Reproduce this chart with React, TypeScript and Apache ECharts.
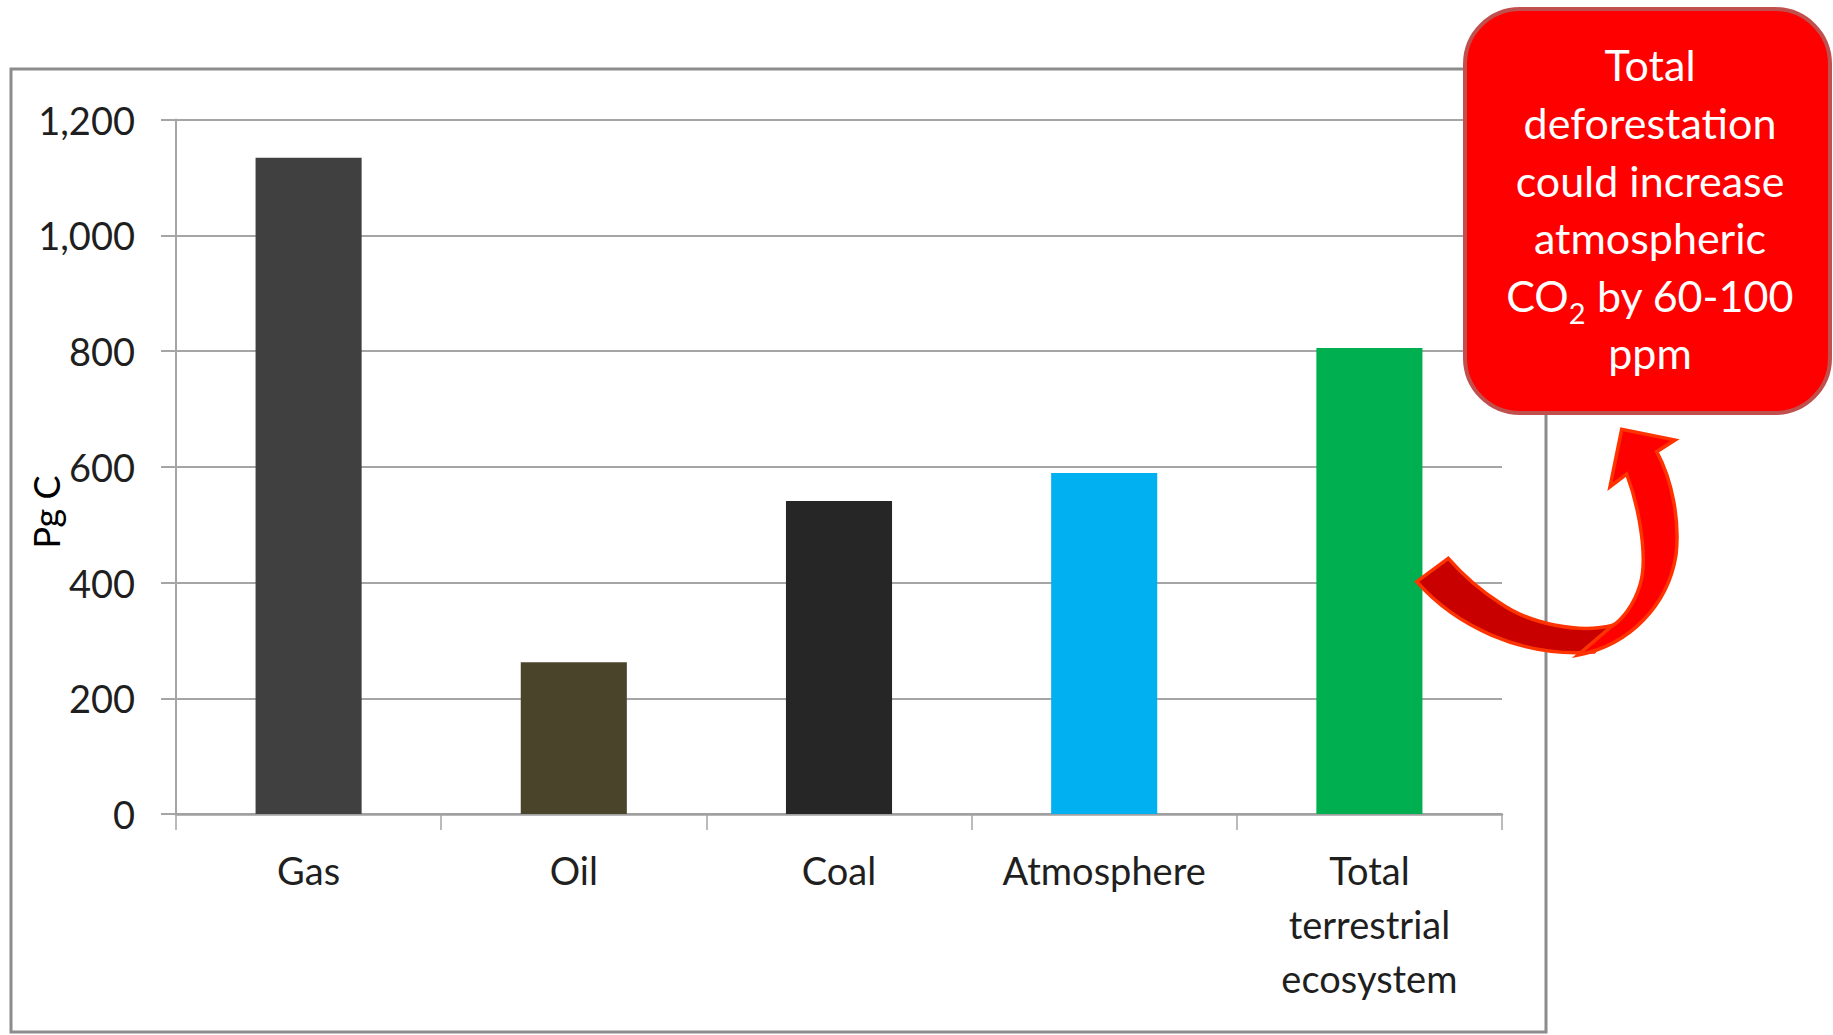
import React, { useEffect, useRef } from 'react';
import * as echarts from 'echarts';

// Carbon stocks, in petagrams of carbon
const categories = ['Gas', 'Oil', 'Coal', 'Atmosphere', 'Total terrestrial ecosystem'];
const carbonPgC = [1134, 262, 541, 589, 805];
const barColors = ['#404040', '#4a452a', '#262626', '#00b0f0', '#00b050'];

// Value axis range
const yMin = 0;
const yMax = 1200;
const yStep = 200;

// Callout text (the {sub|…} part is drawn as a subscript)
const calloutLines = [
  'Total',
  'deforestation',
  'could increase',
  'atmospheric',
  'CO{sub|2} by 60-100',
  'ppm',
];

// Curved block arrow, split into the shaded underside and the lit front face
const arrowUnderside =
  'M 1416.7 581.7 C 1455 625 1520 658 1594 652 L 1614 625 ' +
  'C 1580 634 1530 624 1500 603 C 1480 590 1462 574 1448.3 558.3 Z';
const arrowFront =
  'M 1578 655 C 1630 645 1668 605 1676 555 C 1680 520 1672 480 1656.7 451.7 ' +
  'L 1675 440 L 1621.7 429.3 L 1610 486.7 L 1626.7 474 ' +
  'C 1640 510 1648 560 1640 585 C 1634 605 1622 620 1612 626 Z';

echarts.graphic.registerShape('arrowUnderside', echarts.graphic.extendPath(arrowUnderside, {}));
echarts.graphic.registerShape('arrowFront', echarts.graphic.extendPath(arrowFront, {}));

const FONT = 'Lato';
const TEXT_COLOR = '#1f1f1f';
const GRID_COLOR = '#a5a5a5';

export default function App() {
  const ref = useRef<HTMLDivElement>(null);

  useEffect(() => {
    if (!ref.current) return;
    const chart = echarts.init(ref.current, null, { renderer: 'svg' });

    chart.setOption({
      animation: false,
      backgroundColor: '#ffffff',
      grid: { left: 176, right: 331, top: 119.5, bottom: 221, containLabel: false },
      xAxis: {
        type: 'category',
        data: categories,
        axisLine: { show: true, lineStyle: { color: '#a0a0a0', width: 2.5 } },
        axisTick: { show: true, length: 16, lineStyle: { color: GRID_COLOR, width: 1.5 } },
        axisLabel: {
          interval: 0,
          margin: 29,
          fontSize: 38,
          lineHeight: 54,
          fontFamily: FONT,
          color: TEXT_COLOR,
          formatter: (v: string) => v.split(' ').join('\n'),
        },
      },
      yAxis: {
        type: 'value',
        min: yMin,
        max: yMax,
        interval: yStep,
        axisLine: { show: true, lineStyle: { color: GRID_COLOR, width: 2 } },
        axisTick: { show: true, length: 15, lineStyle: { color: GRID_COLOR, width: 2 } },
        splitLine: { show: true, lineStyle: { color: GRID_COLOR, width: 2 } },
        axisLabel: {
          margin: 41,
          fontSize: 38,
          fontFamily: FONT,
          color: TEXT_COLOR,
          formatter: (v: number) => v.toLocaleString('en-US'),
        },
      },
      series: [
        {
          type: 'bar',
          barCategoryGap: '60%',
          data: carbonPgC.map((v, i) => ({ value: v, itemStyle: { color: barColors[i] } })),
        },
      ],
      graphic: [
        {
          type: 'rect',
          z: 0,
          shape: { x: 11, y: 69, width: 1535, height: 963 },
          style: { fill: 'none', stroke: '#8c8c8c', lineWidth: 3 },
        },
        {
          type: 'text',
          x: 46,
          y: 512,
          rotation: Math.PI / 2,
          z: 10,
          style: {
            text: 'Pg C',
            x: 0,
            y: 0,
            align: 'center',
            verticalAlign: 'middle',
            fontSize: 36,
            fontFamily: FONT,
            fill: '#000000',
          },
        },
        {
          type: 'rect',
          z: 100,
          shape: { x: 1465, y: 9, width: 365, height: 404, r: 55 },
          style: { fill: '#ff0000', stroke: '#c0504d', lineWidth: 4 },
        },
        {
          type: 'text',
          z: 101,
          x: 1650,
          y: 36,
          style: {
            text: calloutLines.join('\n'),
            align: 'center',
            verticalAlign: 'top',
            fontSize: 43,
            lineHeight: 57.6,
            fontFamily: FONT,
            fill: '#ffffff',
            rich: {
              sub: {
                fontSize: 29,
                fontFamily: FONT,
                fill: '#ffffff',
                height: 23,
                lineHeight: 23,
                verticalAlign: 'bottom',
              },
            },
          },
        },
        {
          type: 'arrowUnderside',
          z: 100,
          x: 0,
          y: 0,
          style: { fill: '#c80000', stroke: '#ff3300', lineWidth: 3.5, lineJoin: 'miter' },
        },
        {
          type: 'arrowFront',
          z: 101,
          x: 0,
          y: 0,
          style: { fill: '#ff0000', stroke: '#ff3300', lineWidth: 3.5, lineJoin: 'miter' },
        },
      ],
    });

    return () => chart.dispose();
  }, []);

  return (
    <div
      ref={ref}
      style={{ position: 'fixed', left: 0, top: 0, width: 1833, height: 1035, background: '#ffffff' }}
    />
  );
}
